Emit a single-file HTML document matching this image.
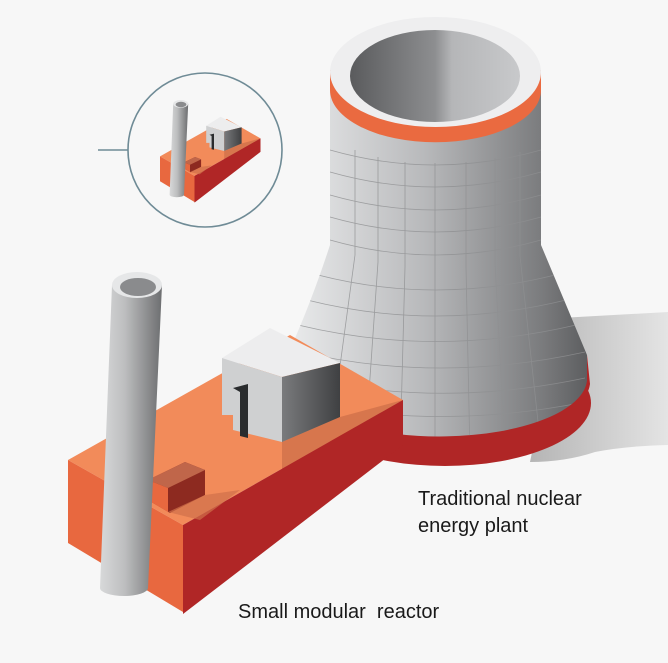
<!DOCTYPE html>
<html><head><meta charset="utf-8"><style>
html,body{margin:0;padding:0;background:#f7f7f7;}
svg{display:block}
text{font-family:"Liberation Sans",sans-serif;fill:#1a1a1a;font-size:20px}
</style></head><body>
<svg width="668" height="663" viewBox="0 0 668 663" xmlns="http://www.w3.org/2000/svg">
<defs>
<linearGradient id="tw" x1="0" x2="1" y1="0" y2="0">
<stop offset="0" stop-color="#e9eaeb"/><stop offset="0.45" stop-color="#b8b9bb"/><stop offset="0.85" stop-color="#7a7b7d"/><stop offset="1" stop-color="#5d5e60"/>
</linearGradient>
<linearGradient id="inner" x1="0" x2="1">
<stop offset="0" stop-color="#5a5b5d"/><stop offset="0.5" stop-color="#8d8e90"/><stop offset="0.6" stop-color="#b5b6b8"/><stop offset="1" stop-color="#c8c9cb"/>
</linearGradient>
<linearGradient id="sh" x1="0" x2="1">
<stop offset="0" stop-color="#b5b5b5"/><stop offset="1" stop-color="#e4e4e4"/>
</linearGradient>
<linearGradient id="ch" x1="0" x2="1">
<stop offset="0" stop-color="#d8d9da"/><stop offset="0.4" stop-color="#bdbebf"/><stop offset="1" stop-color="#6d6e70"/>
</linearGradient>
<linearGradient id="bx" x1="0" x2="1">
<stop offset="0" stop-color="#7a7b7d"/><stop offset="1" stop-color="#3f4042"/>
</linearGradient>
<clipPath id="bodyclip"><path d="M330,80 L330,245 Q312,300 292,345 L292,385 A148,58 0 0 0 587,380 L587,355 Q562,295 541,245 L541,80 Z"/></clipPath>
<g id="smr">
<polygon points="68,460 290,335 403,400 183,525" fill="#f28b5a"/>
<polygon points="282,442 340,417 403,400 345,440 282,470" fill="#d0714a" opacity="0.8"/>
<polygon points="68,460 183,525 183,612 68,543" fill="#e8683f"/>
<polygon points="183,525 403,400 403,445 183,614" fill="#b02626"/>
<polygon points="148,480 185,462 205,470 205,495 170,513 148,500" fill="#8d2a20"/>
<polygon points="148,480 185,462 205,470 168,488" fill="#c0664a"/>
<polygon points="148,480 168,488 168,512 148,500" fill="#e8683f"/>
<polygon points="168,512 205,495 240,490 200,520" fill="#d0714a" opacity="0.7"/>
<path d="M112,285 L100,588 A24,8 0 0 0 148,588 L162,285 Z" fill="url(#ch)"/>
<ellipse cx="137" cy="285" rx="25" ry="13" fill="#e6e7e8"/>
<ellipse cx="138" cy="287" rx="18" ry="9" fill="#8a8b8d"/>
<polygon points="222,358 270,328 340,363 282,377" fill="#ededee"/>
<polygon points="222,358 282,377 282,442 233,430 233,415 222,415" fill="#cfd0d1"/>
<polygon points="282,377 340,363 340,417 282,442" fill="url(#bx)"/>
<polygon points="233,388 248,384 248,438 240,436 240,392" fill="#2a2c2e"/>
</g>
</defs>
<rect width="668" height="663" fill="#f7f7f7"/>
<path d="M560,318 L668,312 L668,445 Q625,446 595,452 Q565,462 530,462 Z" fill="url(#sh)"/>
<path d="M292,390 A150,62 0 0 0 590,384 L587,355 Z" fill="#b02626"/>
<ellipse cx="445" cy="403" rx="146" ry="63" fill="#b02626"/>
<path d="M330,80 L330,245 Q312,300 292,345 L292,385 A148,58 0 0 0 587,380 L587,355 Q562,295 541,245 L541,80 Z" fill="url(#tw)"/>
<g stroke="#8f9092" stroke-width="0.8" fill="none" opacity="0.8" clip-path="url(#bodyclip)">
<path d="M330,150 Q435,180 541,150"/><path d="M330,172 Q435,202 541,172"/><path d="M330,195 Q435,225 541,195"/><path d="M330,217 Q435,247 541,217"/><path d="M330,240 Q435,270 541,240"/>
<path d="M318,275 Q435,305 555,275"/><path d="M307,300 Q435,332 566,300"/><path d="M298,325 Q435,358 576,325"/><path d="M292,350 Q435,385 585,352"/><path d="M292,375 Q435,410 585,378"/><path d="M292,400 Q435,432 585,402"/>
<path d="M355,150 L355,255 L330,440"/><path d="M378,157 L378,262 L365,450"/><path d="M405,162 L405,267 L400,455"/><path d="M435,163 L435,268 L435,460"/><path d="M466,162 L466,267 L470,455"/><path d="M495,158 L495,263 L505,450"/><path d="M520,152 L520,256 L540,440"/>
</g>
<path d="M330,70 L330,90 A105,52 0 0 0 541,90 L541,70 Z" fill="#ea6a40"/>
<ellipse cx="435.5" cy="72" rx="105.5" ry="55" fill="#eeeeef"/>
<ellipse cx="435" cy="76" rx="85" ry="46" fill="url(#inner)"/>
<use href="#smr"/>
<circle cx="205" cy="150" r="77" fill="none" stroke="#6f8b96" stroke-width="1.6"/>
<line x1="98" y1="150" x2="128" y2="150" stroke="#6f8b96" stroke-width="1.6"/>
<use href="#smr" transform="translate(139.6,18.4) scale(0.3)"/>
<text x="418" y="505">Traditional nuclear</text>
<text x="418" y="532">energy plant</text>
<text x="238" y="618">Small modular&#160; reactor</text>
</svg>
</body></html>
